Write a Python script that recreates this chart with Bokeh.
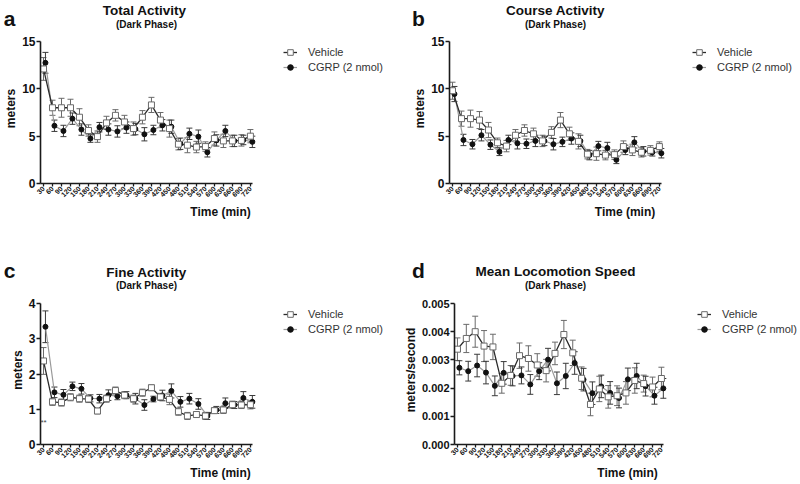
import numpy as np
from bokeh.plotting import figure
from bokeh.models import (ColumnDataSource, Whisker, TeeHead, Legend, LegendItem,
                          Label, FixedTicker, NumeralTickFormatter, Range1d)
from bokeh.transform import dodge
from bokeh.layouts import column, row
from bokeh.embed import file_html
from bokeh.resources import INLINE

# ---------------- data ----------------
time_min = list(range(30, 721, 30))
x_ticks = time_min

total_vehicle = [12.1, 8.0, 8.0, 8.0, 7.0, 5.6, 4.95, 6.4, 7.2, 6.5, 5.8, 7.0,
                 8.3, 6.7, 5.8, 4.15, 4.05, 3.85, 3.9, 4.75, 4.5, 4.5, 4.55, 5.0]
total_vehicle_sem = [1.2, 0.8, 1.0, 0.9, 0.9, 0.6, 0.6, 0.7, 0.6, 0.7, 0.7, 0.7,
                     0.8, 0.8, 0.9, 0.6, 0.8, 0.6, 0.5, 0.7, 0.7, 0.6, 0.6, 0.7]
total_cgrp = [12.75, 6.1, 5.55, 6.85, 5.7, 4.75, 5.95, 5.7, 5.5, 5.9, 5.75, 5.2,
              5.65, 6.15, 6.0, 4.2, 5.25, 4.95, 3.3, 4.55, 5.55, 4.5, 4.6, 4.4]
total_cgrp_sem = [1.1, 0.6, 0.6, 0.6, 0.6, 0.4, 0.5, 0.6, 0.6, 0.6, 0.6, 0.7,
                  0.5, 0.6, 0.7, 0.6, 0.6, 0.7, 0.5, 0.6, 0.6, 0.6, 0.5, 0.6]

course_vehicle = [9.8, 6.85, 6.85, 6.7, 5.65, 4.3, 3.95, 5.1, 5.6, 5.25, 4.5, 5.4,
                  6.7, 5.25, 4.45, 3.1, 3.15, 3.0, 3.05, 3.9, 3.55, 3.3, 3.5, 3.9]
course_vehicle_sem = [0.9, 0.8, 0.9, 0.9, 0.8, 0.5, 0.6, 0.6, 0.6, 0.6, 0.6, 0.6,
                      0.8, 0.7, 0.8, 0.5, 0.7, 0.5, 0.5, 0.6, 0.6, 0.5, 0.5, 0.5]
course_cgrp = [9.45, 4.6, 4.15, 5.1, 4.1, 3.35, 4.6, 4.25, 4.2, 4.5, 4.5, 4.15,
               4.4, 4.75, 4.5, 3.0, 3.95, 3.75, 2.5, 3.55, 4.35, 3.4, 3.3, 3.2]
course_cgrp_sem = [0.8, 0.6, 0.5, 0.6, 0.5, 0.4, 0.5, 0.6, 0.5, 0.6, 0.5, 0.6,
                   0.5, 0.6, 0.6, 0.5, 0.5, 0.6, 0.4, 0.5, 0.6, 0.5, 0.4, 0.5]

fine_vehicle = [2.37, 1.21, 1.19, 1.34, 1.30, 1.29, 0.95, 1.30, 1.53, 1.40, 1.30, 1.47,
                1.61, 1.35, 1.28, 0.93, 0.81, 0.85, 0.81, 0.96, 0.98, 1.13, 1.12, 1.13]
fine_vehicle_sem = [0.38, 0.10, 0.10, 0.10, 0.10, 0.10, 0.08, 0.10, 0.10, 0.10, 0.10, 0.10,
                    0.08, 0.10, 0.15, 0.10, 0.10, 0.08, 0.10, 0.08, 0.10, 0.10, 0.10, 0.12]
fine_cgrp = [3.34, 1.48, 1.41, 1.65, 1.58, 1.31, 1.30, 1.40, 1.37, 1.40, 1.30, 1.12,
             1.29, 1.39, 1.52, 1.21, 1.30, 1.15, 0.81, 0.98, 1.17, 1.12, 1.32, 1.21]
fine_cgrp_sem = [0.45, 0.15, 0.15, 0.12, 0.15, 0.10, 0.12, 0.15, 0.10, 0.10, 0.15, 0.15,
                 0.08, 0.15, 0.20, 0.15, 0.15, 0.15, 0.10, 0.10, 0.15, 0.10, 0.18, 0.18]

speed_vehicle = [0.00338, 0.00376, 0.00400, 0.00349, 0.00346, 0.00217, 0.00245, 0.00315,
                 0.00305, 0.00282, 0.00262, 0.00323, 0.00390, 0.00325, 0.00235, 0.00142,
                 0.00197, 0.00169, 0.00173, 0.00183, 0.00227, 0.00216, 0.00204, 0.00234]
speed_vehicle_sem = [0.0004, 0.0005, 0.00055, 0.00055, 0.00045, 0.00035, 0.00035, 0.00045,
                     0.00045, 0.0004, 0.0004, 0.0004, 0.0005, 0.00045, 0.0004, 0.0004,
                     0.00045, 0.0004, 0.00035, 0.0004, 0.00045, 0.0003, 0.00035, 0.0004]
speed_cgrp = [0.00272, 0.00260, 0.00280, 0.00255, 0.00208, 0.00254, 0.00243, 0.00245,
              0.00213, 0.00260, 0.00301, 0.00217, 0.00243, 0.00289, 0.00230, 0.00182,
              0.00206, 0.00183, 0.00165, 0.00231, 0.00243, 0.00207, 0.00173, 0.00199]
speed_cgrp_sem = [0.00025, 0.00035, 0.0004, 0.0004, 0.00035, 0.0004, 0.00035, 0.0003,
                  0.00035, 0.0003, 0.0004, 0.0004, 0.00045, 0.0004, 0.0004, 0.0004,
                  0.0004, 0.0004, 0.00035, 0.0004, 0.00045, 0.00035, 0.0003, 0.00035]

series_labels = ["Vehicle", "CGRP (2 nmol)"]

FONT = "Liberation Sans"
VEH_LINE = "#2b2b2b"
VEH_EDGE = "#6a6a6a"
CG_LINE = "#9a9a9a"
CG_FILL = "#111111"
TXT = "#111111"

W = 400
X0, X1 = 20, 727          # visible time axis span
DATA_W = 212              # pixels used by the time axis
TOP_PAD = 8               # pixels between frame top and top of y axis


def header(letter, title, height, b_left, t_y, s_y, l_y):
    h = figure(width=W, height=height, output_backend="svg", toolbar_location=None,
               x_range=Range1d(0, W), y_range=Range1d(0, height),
               min_border_left=0, min_border_right=0, min_border_top=0, min_border_bottom=0)
    h.axis.visible = False
    h.grid.visible = False
    h.outline_line_color = None
    cx = b_left + DATA_W / 2
    h.add_layout(Label(x=cx, y=t_y, x_units="screen", y_units="screen",
                       text=title, text_font=FONT, text_font_style="bold",
                       text_font_size="13.5px", text_align="center", text_baseline="middle",
                       text_color=TXT))
    h.add_layout(Label(x=cx, y=s_y, x_units="screen", y_units="screen",
                       text="(Dark Phase)", text_font=FONT, text_font_style="bold",
                       text_font_size="10px", text_align="center", text_baseline="middle",
                       text_color=TXT))
    h.add_layout(Label(x=b_left - 31, y=l_y, x_units="screen", y_units="screen",
                       text=letter, text_font=FONT, text_font_style="bold",
                       text_font_size="21px", text_align="center", text_baseline="middle",
                       text_color=TXT))
    return h


def make_plot(ylabel, veh, veh_sem, cg, cg_sem, y_max, y_ticks, y_fmt,
              height, b_left, b_bottom, star=None, ytick_size="12px"):
    fw = W - b_left
    fh = height - b_bottom
    x_end = X0 + fw * (X1 - X0) / DATA_W
    y_end = y_max * fh / (fh - TOP_PAD)
    p = figure(width=W, height=height, output_backend="svg", toolbar_location=None,
               x_range=Range1d(X0, x_end), y_range=Range1d(0, y_end),
               min_border_left=b_left, min_border_right=0,
               min_border_top=0, min_border_bottom=b_bottom)
    p.outline_line_color = None
    p.xgrid.visible = False
    p.ygrid.visible = False

    veh = np.array(veh); veh_sem = np.array(veh_sem)
    cg = np.array(cg); cg_sem = np.array(cg_sem)
    src_v = ColumnDataSource(dict(x=time_min, y=veh, lo=veh - veh_sem, hi=veh + veh_sem))
    src_c = ColumnDataSource(dict(x=time_min, y=cg, lo=cg - cg_sem, hi=cg + cg_sem))
    cx = dodge("x", 6.5)

    p.add_layout(Whisker(source=src_v, base="x", lower="lo", upper="hi", dimension="height",
                         line_color=VEH_EDGE, line_width=1,
                         upper_head=TeeHead(size=6, line_color=VEH_EDGE, line_width=1),
                         lower_head=TeeHead(size=6, line_color=VEH_EDGE, line_width=1)))
    p.add_layout(Whisker(source=src_c, base=cx, lower="lo", upper="hi", dimension="height",
                         line_color="#3a3a3a", line_width=1,
                         upper_head=TeeHead(size=6, line_color="#3a3a3a", line_width=1),
                         lower_head=TeeHead(size=6, line_color="#3a3a3a", line_width=1)))

    lc = p.line(x=cx, y="y", source=src_c, line_color=CG_LINE, line_width=1.2)
    lv = p.line(x="x", y="y", source=src_v, line_color=VEH_LINE, line_width=1.3)
    mc = p.scatter(x=cx, y="y", source=src_c, marker="circle", size=5,
                   fill_color=CG_FILL, line_color=CG_FILL)
    mv = p.scatter(x="x", y="y", source=src_v, marker="square", size=6,
                   fill_color="white", line_color=VEH_EDGE, line_width=1)

    for ax in (p.xaxis[0], p.yaxis[0]):
        ax.axis_line_width = 1.6
        ax.axis_line_color = "#1a1a1a"
        ax.major_tick_line_width = 1.3
        ax.major_tick_line_color = "#1a1a1a"
        ax.major_tick_in = 0
        ax.major_tick_out = 4
        ax.minor_tick_line_color = None
        ax.axis_label_text_font = FONT
        ax.axis_label_text_font_style = "bold"
        ax.axis_label_text_font_size = "12px"
        ax.axis_label_text_color = TXT
        ax.major_label_text_font = FONT
        ax.major_label_text_font_style = "bold"
        ax.major_label_text_color = TXT

    p.xaxis.bounds = (X0, X1)
    p.xaxis.ticker = FixedTicker(ticks=x_ticks)
    p.xaxis.major_label_orientation = np.pi / 4
    p.xaxis.major_label_text_font_size = "7px"
    p.xaxis.major_label_standoff = 1
    p.xaxis.major_tick_out = 3
    p.xaxis.axis_label = "Time (min)"
    p.xaxis.axis_label_standoff = 3

    p.yaxis.bounds = (0, y_max)
    p.yaxis.ticker = FixedTicker(ticks=y_ticks)
    p.yaxis.formatter = NumeralTickFormatter(format=y_fmt)
    p.yaxis.major_label_text_font_size = ytick_size
    p.yaxis.major_label_standoff = 1
    p.yaxis.axis_label = ylabel
    p.yaxis.axis_label_standoff = 1

    if star is not None:
        p.add_layout(Label(x=star[0], y=star[1], text=star[2], text_font=FONT,
                           text_font_size="8px", text_align="center", text_baseline="middle",
                           text_color="#444444"))

    legend = Legend(items=[LegendItem(label=series_labels[0], renderers=[lv, mv]),
                           LegendItem(label=series_labels[1], renderers=[lc, mc])],
                    location=(243, fh - TOP_PAD - 4 - 29), orientation="vertical",
                    padding=0, margin=0, spacing=1, glyph_width=14, glyph_height=14,
                    label_height=14, label_standoff=11,
                    label_text_font=FONT, label_text_font_size="11px",
                    label_text_color="#333333",
                    border_line_color=None, background_fill_alpha=0)
    p.add_layout(legend, "center")
    return p


HEAD_TOP, PLOT_TOP = 33, 209
HEAD_BOT, PLOT_BOT = 53, 189

ha = header("a", "Total  Activity", HEAD_TOP, 40, 23, 9, 15.5)
hb = header("b", "Course Activity", HEAD_TOP, 49, 23, 9, 15.5)
hc = header("c", "Fine Activity", HEAD_BOT, 40, 23, 10, 25.5)
hd = header("d", "Mean Locomotion Speed", HEAD_BOT, 49, 24, 10, 25.5)

pa = make_plot("meters", total_vehicle, total_vehicle_sem, total_cgrp, total_cgrp_sem,
               15, [0, 5, 10, 15], "0", PLOT_TOP, 40, 59)
pb = make_plot("meters", course_vehicle, course_vehicle_sem, course_cgrp, course_cgrp_sem,
               15, [0, 5, 10, 15], "0", PLOT_TOP, 49, 59)
pc = make_plot("meters", fine_vehicle, fine_vehicle_sem, fine_cgrp, fine_cgrp_sem,
               4, [0, 1, 2, 3, 4], "0", PLOT_BOT, 40, 40, star=(30, 0.63, "**"))
pd = make_plot("meters/second", speed_vehicle, speed_vehicle_sem, speed_cgrp, speed_cgrp_sem,
               0.005, [0, 0.001, 0.002, 0.003, 0.004, 0.005], "0.000", PLOT_BOT, 49, 40,
               ytick_size="11px")

page = column(row(ha, hb), row(pa, pb), row(hc, hd), row(pc, pd))

open("out.html", "w").write(file_html(page, INLINE))
